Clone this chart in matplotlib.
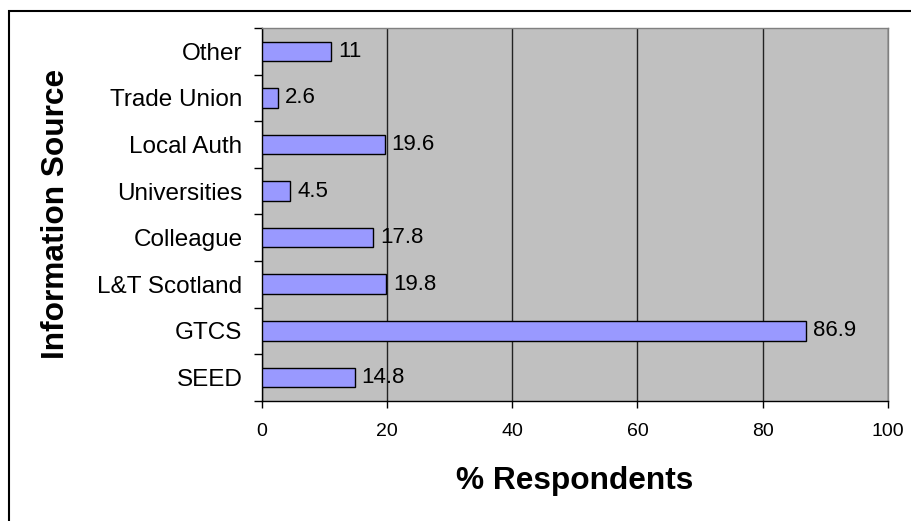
import matplotlib.pyplot as plt
from matplotlib.patches import Rectangle

plt.rcParams['font.family'] = ['Liberation Sans', 'DejaVu Sans']

# fontes de informacao (de baixo para cima)
fontes = ['SEED', 'GTCS', 'L&T Scotland', 'Colleague', 'Universities',
          'Local Auth', 'Trade Union', 'Other']
percentagens = [14.8, 86.9, 19.8, 17.8, 4.5, 19.6, 2.6, 11]
x_ticks = [0, 20, 40, 60, 80, 100]

fig = plt.figure(figsize=(9.11, 5.21), dpi=100)
ax = fig.add_axes([262 / 911, 1 - 400.7 / 521, (887.7 - 262) / 911, (400.7 - 28) / 521])

# moldura externa (estilo Excel)
fig.patches.append(Rectangle((9 / 911, -0.1), 1.2, 1 - 11 / 521 + 0.1,
                             transform=fig.transFigure, fill=False,
                             edgecolor='black', linewidth=1.5))

ax.set_facecolor('#C0C0C0')
pos = list(range(len(fontes)))
ax.barh(pos, percentagens, height=0.42, color='#9999FF', edgecolor='black',
        linewidth=1, zorder=3)

for p, v in zip(pos, percentagens):
    ax.annotate(f'{v:g}', (v, p), xytext=(5, 0), textcoords='offset points',
                va='center', ha='left', fontsize=16)

ax.set_xlim(0, 100)
ax.set_ylim(-0.5, len(fontes) - 0.5)
ax.set_xticks(x_ticks)
ax.set_yticks(pos)
ax.set_yticklabels(fontes)
ax.set_yticks([k - 0.5 for k in range(len(fontes) + 1)], minor=True)

ax.tick_params(axis='y', which='major', length=0, pad=14, labelsize=17.5)
ax.tick_params(axis='y', which='minor', length=6, width=1, color='black')
ax.tick_params(axis='x', which='major', length=5, width=1, pad=11, labelsize=14)

ax.grid(axis='x', color='#222222', linewidth=1, zorder=1)
ax.set_axisbelow(True)

ax.spines['left'].set_color('black')
ax.spines['bottom'].set_color('black')
ax.spines['top'].set_color('#808080')
ax.spines['right'].set_color('#808080')
for s in ax.spines.values():
    s.set_linewidth(1)

ax.set_xlabel('% Respondents', fontsize=22.8, fontweight='bold', labelpad=19)
ax.set_ylabel('Information Source', fontsize=22.8, fontweight='bold', labelpad=19)

fig.savefig('out.png', dpi=100)
